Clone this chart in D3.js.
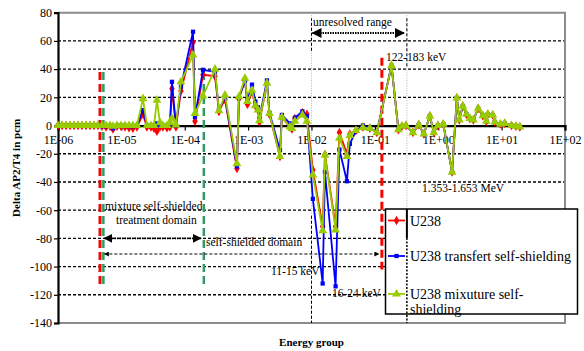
<!DOCTYPE html>
<html>
<head>
<meta charset="utf-8">
<script src="https://cdn.jsdelivr.net/npm/d3@7/dist/d3.min.js"></script>
<style>
  html, body { margin: 0; padding: 0; background: #fff; }
  svg { display: block; }
  text { font-family: "Liberation Serif", "Times New Roman", serif; fill: #000; }
</style>
</head>
<body>
<svg id="chart" width="584" height="351"></svg>
<script>
// Energy group upper bounds (MeV)
const energy = [
  1.0e-6, 1.16e-6, 1.34e-6, 1.55e-6, 1.79e-6, 2.07e-6, 2.39e-6, 2.76e-6, 3.2e-6, 3.7e-6,
  4.27e-6, 4.94e-6, 5.72e-6, 6.61e-6, 7.37e-6, 8.52e-6, 9.86e-6, 1.14e-5, 1.32e-5, 1.52e-5,
  1.76e-5, 2.19e-5, 2.53e-5, 2.93e-5, 3.27e-5, 3.64e-5, 4.06e-5, 4.53e-5, 5.24e-5, 5.84e-5,
  6.28e-5, 7.26e-5, 8.71e-5, 1.35e-4, 1.45e-4, 1.94e-4, 3.0e-4, 3.46e-4, 4.31e-4, 6.66e-4,
  7.16e-4, 8.9e-4, 9.75e-4, 1.15e-3, 1.3e-3, 1.43e-3, 1.51e-3, 1.98e-3, 2.17e-3, 3.18e-3,
  3.41e-3, 4.56e-3, 4.91e-3, 5.47e-3, 7.19e-3, 8.46e-3, 1.05e-2, 1.5e-2, 1.63e-2, 2.4e-2,
  2.76e-2, 3.62e-2, 4.03e-2, 5.02e-2, 6.47e-2, 8.34e-2, 0.1075, 0.183, 0.235, 0.267,
  0.308, 0.398, 0.494, 0.593, 0.737, 0.852, 0.986, 1.2, 1.653, 1.965,
  2.15, 2.44, 2.78, 3.15, 3.58, 4.26, 5.05, 5.74, 6.06, 7.26,
  7.81, 9.54, 11.2, 14.3, 16.8, 19.4
];

// Delta AP2/T4 (pcm) per energy group
const u238 = [
  0, 0, 0, 0, 0, 0, 0, 0, 0, 0,
  0, -0.5, -1, -0.5, -2.5, -0.5, -0.5, -1, -1.5, -2,
  -1, 8, -1, -1, -2, -4, -1, -1, -1.5, -1,
  26, -1, 24.5, 59, 3, 36, 35, 10, 18.5, -30.5,
  19, 32, 15, 24, 14, 11, 2.5, 30, 8, -22,
  6, -1, -2.5, 5, 9, 8, -31.5, -71.5, -20.5, -71.5,
  -5, -20, -6, -3.5, -1, -2, -5, 42.5, -3, -0.5,
  0, -5, 0.5, -6, 6.7, -5, 0, 1, -33, 19.5,
  4, 13.8, 8, 5, 4, 12, 7, 3, 8, 7.4,
  2.5, 1, 1.5, 0, -0.5, -1
];
const transfert = [
  0, 0, 0, 0, 0, 0, 0, 0, 0, 0,
  0, -0.5, -0.5, 0, -2, 0, 0, 0, -0.5, -0.5,
  0, 11, 0, 0, 0, 1.5, 0, 0, 0, 1,
  31, 0, 27.5, 66.5, 6, 39.5, 38, 11, 20, -29,
  20, 31.5, 18, 29, 17, 13, 5, 32, 9, -17.5,
  7.5, 1.5, -1, 5.5, 10, 6.5, -52, -112, -33, -114,
  -17, -39.5, -13, -4, 0, -2, -4.5, 42.5, -3, -0.5,
  0, -5, 0.5, -6, 6.7, -5, 0, 1, -33, 19.5,
  4, 13.8, 8, 5, 4, 12, 7, 3, 8, 7.4,
  2.5, 1, 1.5, 0, -0.5, -1
];
const mixture = [
  0, 0, 0, 0, 0, 0, 0, 0, 0, 0,
  0, 0, 0, 0, -0.5, 0, 0, 0, 0, 0,
  0, 19, 0, 0, 0, 18, 2, 0, 0, 2,
  5, 0.5, 31, 50, 8.5, 21, 40, 10.5, 21.5, -27,
  20.5, 33.5, 17, 25, 14, 11, 3.5, 30, 8.5, -22,
  6, -1, -2, 3, 7.5, 3, -35, -74.5, -21, -74,
  -9, -22, -7, -3.5, -1.5, -2, -5, 42.5, -3, -0.5,
  0, -5, 0.5, -6, 6.7, -5, 0, 1, -33, 19.5,
  4, 13.8, 8, 5, 4, 12, 7, 3, 8, 7.4,
  2.5, 1, 1.5, 0, -0.5, -1
];

const xTicks = [1e-6, 1e-5, 1e-4, 1e-3, 1e-2, 1e-1, 1e0, 1e1, 1e2];
const xTickLabels = ["1E-06", "1E-05", "1E-04", "1E-03", "1E-02", "1E-01", "1E+00", "1E+01", "1E+02"];
const yTicks = [80, 60, 40, 20, 0, -20, -40, -60, -80, -100, -120, -140];

const seriesNames = ["U238", "U238 transfert self-shielding", "U238 mixuture self-shielding"];
const seriesColors = ["#ff0000", "#0000ff", "#99cc00"];

// Domain boundary markers (MeV)
const redBounds = [4.6e-6, 0.129];
const greenBounds = [5.2e-6, 2.0e-4];
const unresolvedBounds = [0.01, 0.32];

const svg = d3.select("#chart");
const m = { left: 58, right: 565, top: 12.7, bottom: 323 };

const x = d3.scaleLog().domain([1e-6, 1e2]).range([m.left, m.right]);
const y = d3.scaleLinear().domain([-140, 80]).range([m.bottom, m.top]);

// Horizontal dashed gridlines
svg.append("g").selectAll("line")
  .data(yTicks.filter(v => v !== 0 && v !== 80 && v !== -140))
  .join("line")
  .attr("x1", m.left).attr("x2", m.right)
  .attr("y1", d => y(d)).attr("y2", d => y(d))
  .attr("stroke", "#000").attr("stroke-width", 1.4)
  .attr("stroke-dasharray", "3,2");

// Plot frame (grey top/right/bottom)
svg.append("path")
  .attr("d", `M${m.left},${m.top}H${m.right}V${m.bottom}H${m.left}`)
  .attr("fill", "none").attr("stroke", "#8c8c8c").attr("stroke-width", 2);

// Unresolved-range vertical guides
unresolvedBounds.forEach(e => {
  svg.append("line")
    .attr("x1", x(e)).attr("x2", x(e)).attr("y1", m.top).attr("y2", m.bottom)
    .attr("stroke", "#a0a0a0").attr("stroke-width", 0.8).attr("stroke-dasharray", "1,1.5");
});
function vdash(e, v1, v2, w) {
  svg.append("line")
    .attr("x1", x(e)).attr("x2", x(e))
    .attr("y1", y(v1)).attr("y2", y(v2))
    .attr("stroke", "#000").attr("stroke-width", w).attr("stroke-dasharray", "3,2");
}
vdash(unresolvedBounds[0], 53, 76, 1);
vdash(unresolvedBounds[0], -64, -140, 1);
vdash(unresolvedBounds[1], 42, 76, 1);

// Arrow markers
const defs = svg.append("defs");
defs.append("marker").attr("id", "ah").attr("viewBox", "0 0 10 10")
  .attr("refX", 9).attr("refY", 5).attr("markerWidth", 5).attr("markerHeight", 5)
  .attr("orient", "auto-start-reverse")
  .append("path").attr("d", "M0,0L10,5L0,10Z").attr("fill", "#000");

// Y axis
const yAxis = svg.append("g").attr("transform", `translate(${m.left},0)`)
  .call(d3.axisLeft(y).tickValues(yTicks).tickSize(4).tickFormat(d3.format("d")));
yAxis.select(".domain").attr("stroke", "#000").attr("stroke-width", 2.2);
yAxis.selectAll(".tick line").attr("stroke", "#000").attr("stroke-width", 1.2);
yAxis.selectAll("text").attr("font-size", 12).attr("font-family", "Liberation Serif").attr("x", -6)
  .text(d => d < 0 ? "-" + Math.abs(d) : d);

// X axis along zero
const xAxis = svg.append("g").attr("transform", `translate(0,${y(0)})`)
  .call(d3.axisBottom(x).tickValues(xTicks).tickSize(5)
    .tickFormat((d, i) => xTickLabels[i]));
xAxis.select(".domain").attr("stroke", "#000").attr("stroke-width", 2.2);
xAxis.selectAll(".tick line").attr("stroke", "#000").attr("stroke-width", 1.2);
xAxis.selectAll("text").attr("font-size", 12).attr("font-family", "Liberation Serif").attr("y", 10);

// Domain boundary dashed lines
redBounds.forEach((e, i) => {
  svg.append("line")
    .attr("x1", x(e)).attr("x2", x(e))
    .attr("y1", i === 0 ? y(38) : y(48)).attr("y2", i === 0 ? y(-113) : y(-102))
    .attr("stroke", "#ff0000").attr("stroke-width", 3).attr("stroke-dasharray", "8,4");
});
greenBounds.forEach(e => {
  svg.append("line")
    .attr("x1", x(e)).attr("x2", x(e)).attr("y1", y(38)).attr("y2", y(-115))
    .attr("stroke", "#339966").attr("stroke-width", 2.5).attr("stroke-dasharray", "8,4");
});

// Series lines and markers
const allSeries = [u238, transfert, mixture];
const symbols = [d3.symbolDiamond, d3.symbolSquare, d3.symbolTriangle];
const symSizes = [26, 18, 34];
const line = d3.line().x(d => x(d[0])).y(d => y(d[1]));

allSeries.forEach((vals, s) => {
  const pts = energy.map((e, i) => [e, vals[i]]);
  svg.append("path").datum(pts)
    .attr("d", line).attr("fill", "none")
    .attr("stroke", seriesColors[s]).attr("stroke-width", 1.8)
    .attr("stroke-linejoin", "round");
  svg.append("g").selectAll("path").data(pts).join("path")
    .attr("d", d3.symbol().type(symbols[s]).size(symSizes[s]))
    .attr("transform", d => `translate(${x(d[0])},${y(d[1])})`)
    .attr("fill", seriesColors[s]);
});

// Annotations
function label(txt, tx, ty, opts = {}) {
  return svg.append("text").attr("x", tx).attr("y", ty)
    .attr("font-size", opts.size || 11.5)
    .attr("text-anchor", opts.anchor || "start")
    .attr("font-weight", opts.weight || "normal")
    .text(txt);
}

label("unresolved range", 313, 26);
svg.append("line")
  .attr("x1", x(unresolvedBounds[0]) + 1).attr("x2", x(unresolvedBounds[1]) - 3)
  .attr("y1", 33).attr("y2", 33)
  .attr("stroke", "#000").attr("stroke-width", 2).attr("stroke-dasharray", "1.5,1")
  .attr("marker-start", "url(#ah)").attr("marker-end", "url(#ah)");

label("122-183 keV", 386, 61);
label("1.353-1.653 MeV", 422, 192);
label("11-15 keV", 271, 275);
label("16-24 keV", 332, 297);

label("mixture self-shielded", 105, 210);
label("treatment domain", 116, 224);
svg.append("line")
  .attr("x1", x(greenBounds[0]) + 1).attr("x2", x(greenBounds[1]) - 3)
  .attr("y1", y(-80)).attr("y2", y(-80))
  .attr("stroke", "#000").attr("stroke-width", 1.8).attr("stroke-dasharray", "1.5,1")
  .attr("marker-start", "url(#ah)").attr("marker-end", "url(#ah)");

label("self-shielded domain", 206, 246);
svg.append("line")
  .attr("x1", x(greenBounds[0]) + 1).attr("x2", x(redBounds[1]) - 3)
  .attr("y1", 254).attr("y2", 254)
  .attr("stroke", "#000").attr("stroke-width", 1).attr("stroke-dasharray", "3,2")
  .attr("marker-start", "url(#ah)").attr("marker-end", "url(#ah)");

// Axis titles
svg.append("text")
  .attr("transform", `translate(20,${(m.top + m.bottom) / 2}) rotate(-90)`)
  .attr("text-anchor", "middle").attr("font-size", 11).attr("font-weight", "bold")
  .text("Delta AP2/T4 in pcm");
svg.append("text")
  .attr("x", (m.left + m.right) / 2).attr("y", 346)
  .attr("text-anchor", "middle").attr("font-size", 11).attr("font-weight", "bold")
  .text("Energy group");

// Legend
const lg = svg.append("g");
lg.append("rect").attr("x", 385.5).attr("y", 209).attr("width", 192).attr("height", 105)
  .attr("fill", "#fff").attr("stroke", "#000").attr("stroke-width", 1.5);
lg.append("line").attr("x1", x(unresolvedBounds[1])).attr("x2", x(unresolvedBounds[1]))
  .attr("y1", 209).attr("y2", 238).attr("stroke", "#000").attr("stroke-width", 2);
lg.append("line").attr("x1", x(unresolvedBounds[1])).attr("x2", x(unresolvedBounds[1]))
  .attr("y1", 238).attr("y2", 323).attr("stroke", "#000").attr("stroke-width", 1.5)
  .attr("stroke-dasharray", "2,1.5");
const rowY = [220.5, 256, 294];
seriesNames.forEach((name, s) => {
  lg.append("line").attr("x1", 388).attr("x2", 405).attr("y1", rowY[s]).attr("y2", rowY[s])
    .attr("stroke", seriesColors[s]).attr("stroke-width", 1.8);
  lg.append("path").attr("d", d3.symbol().type(symbols[s]).size(symSizes[s]))
    .attr("transform", `translate(396.5,${rowY[s]})`).attr("fill", seriesColors[s]);
});
lg.append("text").attr("x", 410).attr("y", rowY[0] + 5).attr("font-size", 14).text("U238");
lg.append("text").attr("x", 410).attr("y", rowY[1] + 5).attr("font-size", 14).text("U238 transfert self-shielding");
lg.append("text").attr("x", 410).attr("y", rowY[2] + 5).attr("font-size", 14).text("U238 mixuture self-");
lg.append("text").attr("x", 410).attr("y", rowY[2] + 20).attr("font-size", 14).text("shielding");
</script>
</body>
</html>
